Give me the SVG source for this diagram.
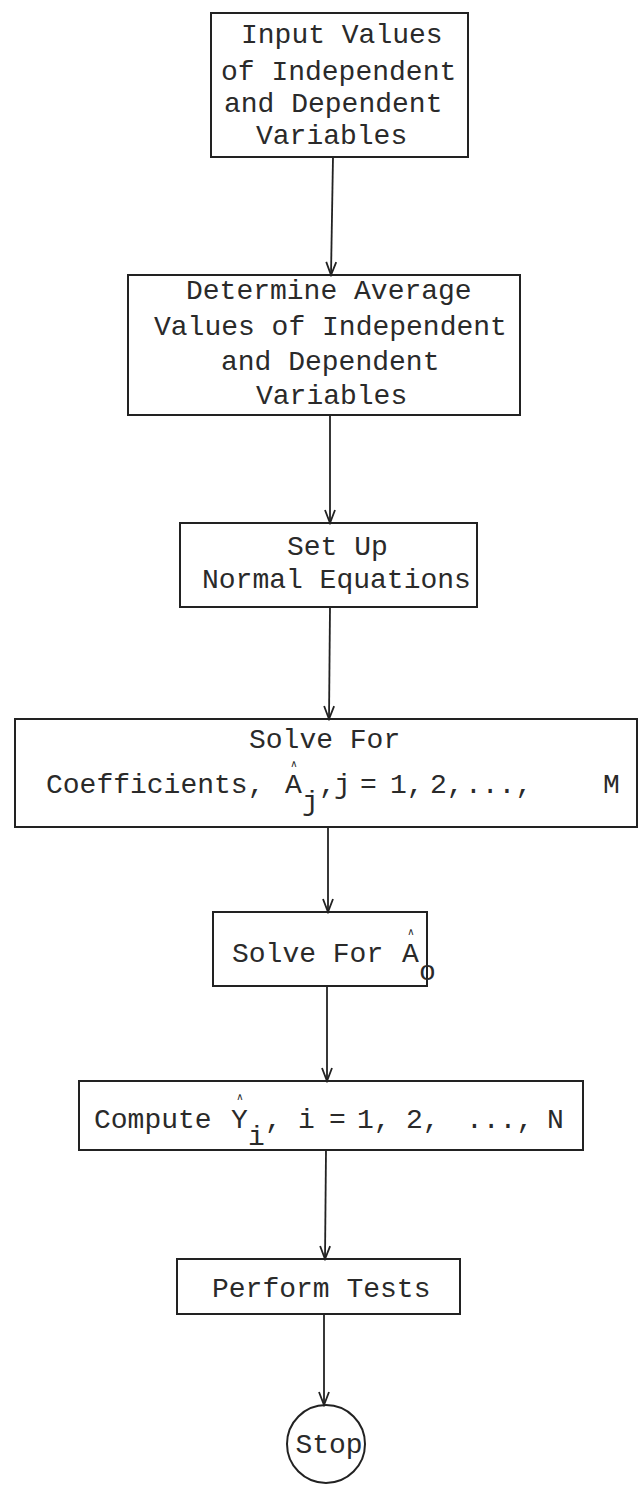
<svg xmlns="http://www.w3.org/2000/svg" width="640" height="1485" viewBox="0 0 640 1485">
<style>
.box{fill:none;stroke:#222;stroke-width:2}
.t{font-family:"Liberation Mono","Courier New",monospace;font-size:28px;fill:#2a2a2a}
.hat{font-family:"DejaVu Sans",sans-serif;font-size:10px;fill:#2a2a2a;text-anchor:middle}
.conn{stroke:#222;stroke-width:1.8;fill:none;marker-end:url(#arr)}
</style>
<defs>
<marker id="arr" viewBox="-15 -7 17 14" refX="0" refY="0" markerWidth="17" markerHeight="14" markerUnits="userSpaceOnUse" orient="auto">
<path d="M-13,-5 L0,0 L-13,5" fill="none" stroke="#222" stroke-width="1.8"/>
</marker>
</defs>
<rect width="640" height="1485" fill="#fff"/>
<g id="connectors">
<line class="conn" x1="333" y1="157" x2="331" y2="275"/>
<line class="conn" x1="330" y1="415" x2="330" y2="523"/>
<line class="conn" x1="330" y1="607" x2="329" y2="719"/>
<line class="conn" x1="328" y1="827" x2="328" y2="912"/>
<line class="conn" x1="327" y1="986" x2="327" y2="1081"/>
<line class="conn" x1="326" y1="1150" x2="325" y2="1259"/>
<line class="conn" x1="324" y1="1314" x2="324" y2="1405"/>
</g>
<g id="n1">
<rect class="box" x="211" y="13" width="257" height="144"/>
<text class="t" x="241" y="43">Input Values</text>
<text class="t" x="221" y="80">of Independent</text>
<text class="t" x="224" y="112">and Dependent</text>
<text class="t" x="256" y="144">Variables</text>
</g>
<g id="n2">
<rect class="box" x="128" y="275" width="392" height="140"/>
<text class="t" x="186" y="299">Determine Average</text>
<text class="t" x="154" y="335">Values of Independent</text>
<text class="t" x="221" y="370">and Dependent</text>
<text class="t" x="256" y="404">Variables</text>
</g>
<g id="n3">
<rect class="box" x="180" y="523" width="297" height="84"/>
<text class="t" x="287" y="555">Set Up</text>
<text class="t" x="202" y="588">Normal Equations</text>
</g>
<g id="n4">
<rect class="box" x="15" y="719" width="622" height="108"/>
<text class="t" x="249" y="748">Solve For</text>
<text class="hat" x="294" y="767">∧</text>
<text class="t" y="793"><tspan x="46">Coefficients,</tspan><tspan x="285">A</tspan><tspan x="302" dy="17">j</tspan><tspan x="319" dy="-17">,</tspan><tspan x="334">j</tspan><tspan x="360">=</tspan><tspan x="390">1,</tspan><tspan x="430">2,</tspan><tspan x="465">...,</tspan><tspan x="603">M</tspan></text>
</g>
<g id="n5">
<rect class="box" x="213" y="912" width="214" height="74"/>
<text class="hat" x="411" y="935">∧</text>
<text class="t" y="962"><tspan x="232">Solve For</tspan><tspan x="402">A</tspan><tspan x="419" dy="18">o</tspan></text>
</g>
<g id="n6">
<rect class="box" x="79" y="1081" width="504" height="69"/>
<text class="hat" x="240" y="1100">∧</text>
<text class="t" y="1128"><tspan x="94">Compute</tspan><tspan x="231">Y</tspan><tspan x="248" dy="17">i</tspan><tspan x="265" dy="-17">,</tspan><tspan x="298">i</tspan><tspan x="329">=</tspan><tspan x="357">1,</tspan><tspan x="406">2,</tspan><tspan x="466">...,</tspan><tspan x="547">N</tspan></text>
</g>
<g id="n7">
<rect class="box" x="177" y="1259" width="283" height="55"/>
<text class="t" x="212" y="1297">Perform Tests</text>
</g>
<g id="stop">
<circle class="box" cx="326" cy="1444" r="39"/>
<text class="t" x="329" y="1453" text-anchor="middle" font-size="27">Stop</text>
</g>
</svg>
